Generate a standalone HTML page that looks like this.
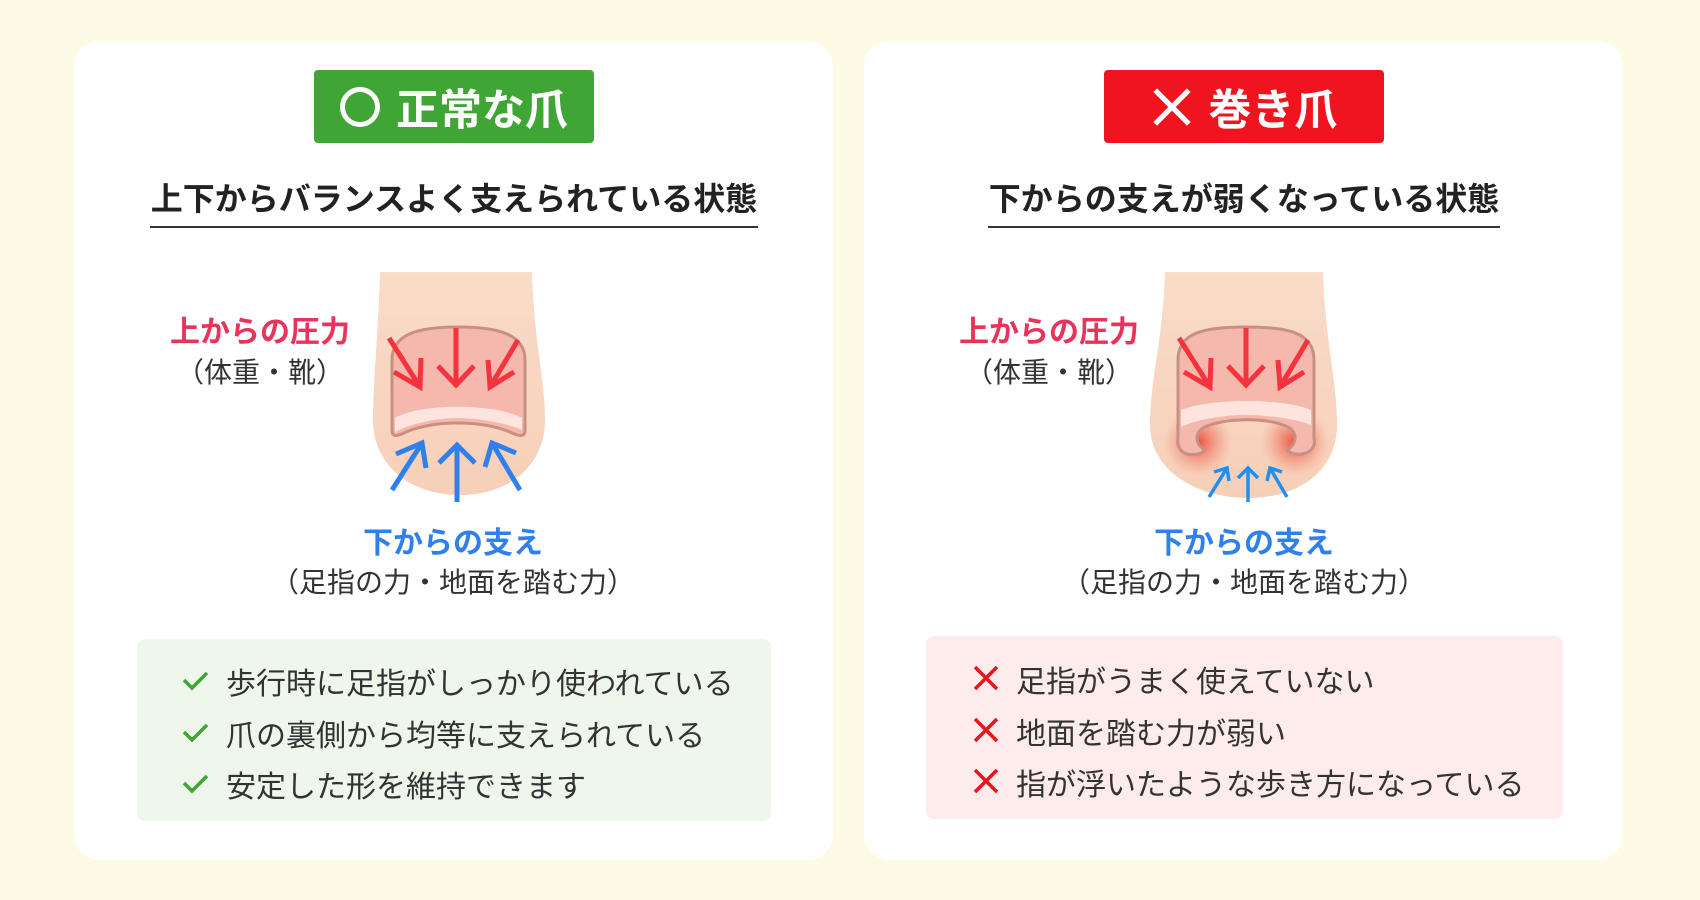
<!DOCTYPE html>
<html><head><meta charset="utf-8"><style>
*{margin:0;padding:0;box-sizing:border-box}
body{width:1700px;height:900px;background:#fdfbe5;position:relative;overflow:hidden;font-family:"Liberation Sans","Noto Sans CJK JP",sans-serif;color:#333}
.card{position:absolute;top:41px;width:759px;height:819px;background:#fff;border-radius:26px}
.badge{position:absolute;top:70px;width:280px;height:73px;border-radius:4px;color:#fff;font-size:43px;font-weight:bold;display:flex;align-items:center;justify-content:center;gap:16px}
.sub{position:absolute;top:174px;font-size:32px;font-weight:bold;color:#222;text-align:center;border-bottom:2px solid #333;height:54px;white-space:nowrap}
.lab{position:absolute;text-align:center;font-weight:bold;font-size:30px;transform:translateX(-50%);white-space:nowrap}
.par{position:absolute;text-align:center;font-size:28px;color:#333;transform:translateX(-50%);white-space:nowrap}
.box{position:absolute;border-radius:8px}
.item{position:absolute;font-size:30px;color:#333;white-space:nowrap}
</style></head><body>
<div class="card" style="left:74px"></div>
<div class="card" style="left:864px"></div>

<div class="badge" style="left:314px;background:#3fa535"><span style="display:inline-block;width:40px;height:40px;border:5px solid #fff;border-radius:50%"></span>正常な爪</div>
<div class="badge" style="left:1104px;background:#f0141e"><svg width="42" height="42" viewBox="0 0 40 40"><path d="M4 4L36 36M36 4L4 36" stroke="#fff" stroke-width="5"/></svg>巻き爪</div>

<div class="sub" style="left:150px;width:608px">上下からバランスよく支えられている状態</div>
<div class="sub" style="left:988px;width:512px">下からの支えが弱くなっている状態</div>

<svg style="position:absolute;left:340px;top:260px" width="240" height="250" viewBox="0 0 240 250">
<defs><linearGradient id="sk" x1="0" y1="0" x2="0" y2="1"><stop offset="0" stop-color="#f9dcc9"/><stop offset="1" stop-color="#f7cfb8"/></linearGradient></defs>
<path d="M40,12 L192,12 C194,80 205,120 205,160 C205,205 170,235 120,235 C70,235 33,205 33,160 C33,120 38,80 40,12 Z" fill="url(#sk)"/>
<path d="M52,170 L52,100 C52,74 78,67 118,67 C158,67 185,74 185,100 L185,170 C185,178 178,176 170,172 C140,160 95,160 66,172 C58,176 52,178 52,170 Z" fill="#f5b8ad" stroke="#c98f82" stroke-width="3"/>
<path d="M55,158 C80,143 155,143 182,158 L182,170 C170,164 140,158 118,158 C95,158 70,164 55,172 Z" fill="#fde4dc"/>
<g stroke="#f5333f" stroke-width="5" fill="none">
<path d="M116,68 L116,125 M98,106 L116,125 L134,106"/>
<path d="M49,78 L80,127 M54,112 L80,127 L81,98"/>
<path d="M178,80 L150,127 M148,100 L150,127 L174,112"/>
</g>
<g stroke="#2f80ed" stroke-width="5" fill="none">
<path d="M117,242 L117,185 M99,203 L117,185 L135,203"/>
<path d="M52,230 L82,183 M56,194 L82,183 L86,208"/>
<path d="M180,230 L152,183 M145,207 L152,183 L176,193"/>
</g>
</svg>

<svg style="position:absolute;left:1130px;top:260px" width="240" height="250" viewBox="0 0 240 250">
<defs><linearGradient id="sk2" x1="0" y1="0" x2="0" y2="1"><stop offset="0" stop-color="#f9dcc9"/><stop offset="1" stop-color="#f7cfb8"/></linearGradient>
<radialGradient id="gl"><stop offset="0" stop-color="#e8432e" stop-opacity=".9"/><stop offset="1" stop-color="#f08070" stop-opacity="0"/></radialGradient></defs>
<path d="M35,12 L193,12 C195,80 207,120 207,165 C207,210 170,238 118,238 C66,238 20,210 20,165 C20,120 33,80 35,12 Z" fill="url(#sk2)"/>
<circle cx="68" cy="182" r="34" fill="url(#gl)"/>
<circle cx="165" cy="182" r="34" fill="url(#gl)"/>
<path d="M48,178 C45,197 68,198 75,190 C65,185 62,170 80,165 C100,158 135,158 153,165 C170,170 167,185 157,190 C164,198 188,195 184,178 L184,100 C184,72 157,67 116,67 C75,67 48,72 48,100 Z" fill="#f5b8ad" stroke="#c98f82" stroke-width="3"/>
<path d="M51,150 C80,138 155,138 181,150 L181,165 C170,160 140,155 116,155 C92,155 65,160 51,167 Z" fill="#fde4dc"/>
<g stroke="#f5333f" stroke-width="5" fill="none">
<path d="M116,68 L116,125 M98,106 L116,125 L134,106"/>
<path d="M49,78 L80,127 M54,112 L80,127 L81,98"/>
<path d="M178,80 L150,127 M148,100 L150,127 L174,112"/>
</g>
<g stroke="#1f8ff0" stroke-width="3.5" fill="none">
<path d="M118,242 L118,208 M108,218 L118,208 L128,218"/>
<path d="M79,237 L97,208 M84,212 L97,208 L99,221"/>
<path d="M157,237 L140,208 M137,221 L140,208 L152,212"/>
</g>
</svg>

<div class="lab" style="left:260px;top:307px;color:#e8345a">上からの圧力</div>
<div class="par" style="left:260px;top:351px">（体重・靴）</div>
<div class="lab" style="left:453px;top:518px;color:#2f80ed">下からの支え</div>
<div class="par" style="left:453px;top:561px">（足指の力・地面を踏む力）</div>

<div class="lab" style="left:1049px;top:307px;color:#e8345a">上からの圧力</div>
<div class="par" style="left:1049px;top:351px">（体重・靴）</div>
<div class="lab" style="left:1244px;top:518px;color:#2f80ed">下からの支え</div>
<div class="par" style="left:1244px;top:561px">（足指の力・地面を踏む力）</div>

<div class="box" style="left:137px;top:639px;width:634px;height:182px;background:#eff6ec"></div>
<div class="box" style="left:926px;top:636px;width:637px;height:183px;background:#fdeceb"></div>

<svg style="position:absolute;left:181px;top:667px" width="30" height="130" viewBox="0 0 30 130"><g stroke="#3fa535" stroke-width="3.5" fill="none"><path d="M3,13 L11,21 L26,6"/><path d="M3,65 L11,73 L26,58"/><path d="M3,116 L11,124 L26,109"/></g></svg>
<div class="item" style="left:226px;top:659px">歩行時に足指がしっかり使われている</div>
<div class="item" style="left:226px;top:711px">爪の裏側から均等に支えられている</div>
<div class="item" style="left:226px;top:762px">安定した形を維持できます</div>

<svg style="position:absolute;left:972px;top:664px" width="28" height="130" viewBox="0 0 28 130"><g stroke="#e8141e" stroke-width="3.5" fill="none"><path d="M3,3L25,25M25,3L3,25"/><path d="M3,55L25,77M25,55L3,77"/><path d="M3,106L25,128M25,106L3,128"/></g></svg>
<div class="item" style="left:1016px;top:657px">足指がうまく使えていない</div>
<div class="item" style="left:1016px;top:709px">地面を踏む力が弱い</div>
<div class="item" style="left:1016px;top:760px">指が浮いたような歩き方になっている</div>
</body></html>
